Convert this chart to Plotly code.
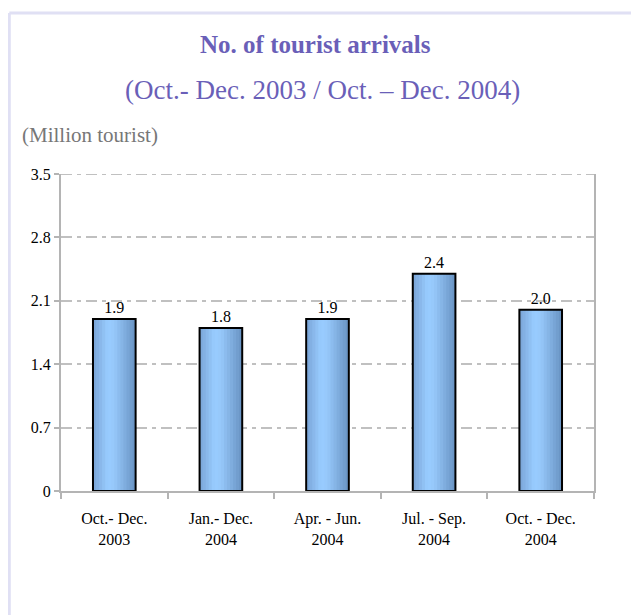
import plotly.graph_objects as go

# quarters and arrivals (million tourists)
periods = ["Oct.- Dec.<br>2003", "Jan.- Dec.<br>2004", "Apr. - Jun.<br>2004",
           "Jul. - Sep.<br>2004", "Oct. - Dec.<br>2004"]
arrivals = [1.9, 1.8, 1.9, 2.4, 2.0]
arrival_labels = ["1.9", "1.8", "1.9", "2.4", "2.0"]
y_ticks = [0, 0.7, 1.4, 2.1, 2.8, 3.5]
y_tick_text = ["0", "0.7", "1.4", "2.1", "2.8", "3.5"]

serif = "Liberation Serif, Times New Roman, serif"
grid_grey = "#c0c0c0"
grid_dash = "11px,5px,4px,5px"
bar_w = 0.4

# horizontal shading of the bars, built from thin overlaid slices
stops = [(0.0, (122, 164, 214)), (0.35, (153, 204, 255)), (0.5, (150, 200, 250)),
         (1.0, (104, 146, 194))]


def shade(t):
    for (t0, c0), (t1, c1) in zip(stops[:-1], stops[1:]):
        if t0 <= t <= t1:
            f = (t - t0) / (t1 - t0)
            return "rgb(%d,%d,%d)" % tuple(round(a + (b - a) * f) for a, b in zip(c0, c1))
    return "rgb(%d,%d,%d)" % stops[-1][1]


fig = go.Figure()
n = 14
step = bar_w / n
for i in range(n):
    w = step * 2 if i < n - 1 else step
    fig.add_trace(go.Bar(
        x=periods, y=arrivals,
        width=w, offset=-bar_w / 2 + i * step,
        marker=dict(color=shade((i + 0.5) / n), line=dict(width=0)),
        hoverinfo="skip", showlegend=False,
    ))

# outline + value labels
fig.add_trace(go.Bar(
    x=periods, y=arrivals, width=bar_w, offset=-bar_w / 2,
    marker=dict(color="rgba(0,0,0,0)", line=dict(color="black", width=2)),
    text=arrival_labels, textposition="outside", cliponaxis=False,
    textfont=dict(family=serif, size=16, color="black"),
    showlegend=False,
))

# page body adds 8px, so margins are shifted by that
fig.update_layout(
    width=639, height=615,
    barmode="overlay",
    paper_bgcolor="white", plot_bgcolor="white",
    margin=dict(l=53, r=53, t=166, b=132),
    font=dict(family=serif, color="black"),
    showlegend=False,
)

fig.update_xaxes(
    type="category",
    showline=True, linecolor="#b4b4b4", linewidth=2,
    ticks="outside", tickson="boundaries", ticklen=6, tickcolor="#b4b4b4", tickwidth=2,
    tickfont=dict(family=serif, size=16, color="black"),
    ticklabelstandoff=12,
    showgrid=False,
)
fig.update_yaxes(
    range=[0, 3.5], tickvals=y_ticks, ticktext=y_tick_text,
    showline=True, linecolor="#b4b4b4", linewidth=2, mirror=True,
    ticks="outside", ticklen=5, tickcolor="#b4b4b4", tickwidth=2,
    tickfont=dict(family=serif, size=16, color="black"),
    showgrid=True, gridcolor=grid_grey, gridwidth=2, griddash=grid_dash,
    zeroline=False,
)

# top gridline (plotly skips the one on the range edge)
fig.add_shape(type="line", xref="paper", yref="y",
              x0=0, x1=1, y0=y_ticks[-1], y1=y_ticks[-1], layer="below",
              line=dict(color=grid_grey, width=2, dash=grid_dash))

# light frame around the whole chart
fig.add_shape(type="line", xref="paper", yref="paper",
              x0=-0.097, x1=1.2, y0=1.508, y1=1.508,
              line=dict(color="#e0e0f4", width=3))
fig.add_shape(type="line", xref="paper", yref="paper",
              x0=-0.097, x1=-0.097, y0=1.508, y1=-0.45,
              line=dict(color="#e0e0f4", width=3))

fig.add_annotation(text="<b>No. of tourist arrivals</b>", xref="paper", yref="paper",
                   x=0.478, y=1.41, xanchor="center", yanchor="middle", showarrow=False,
                   font=dict(family=serif, size=25, color="#6a5fb8"))
fig.add_annotation(text="(Oct.- Dec. 2003 / Oct. – Dec. 2004)", xref="paper", yref="paper",
                   x=0.49, y=1.265, xanchor="center", yanchor="middle", showarrow=False,
                   font=dict(family=serif, size=27, color="#6a5fb8"))
fig.add_annotation(text="(Million tourist)", xref="paper", yref="paper",
                   x=-0.077, y=1.123, xanchor="left", yanchor="middle", showarrow=False,
                   font=dict(family=serif, size=21, color="#777777"))

fig.write_html("out.html")
